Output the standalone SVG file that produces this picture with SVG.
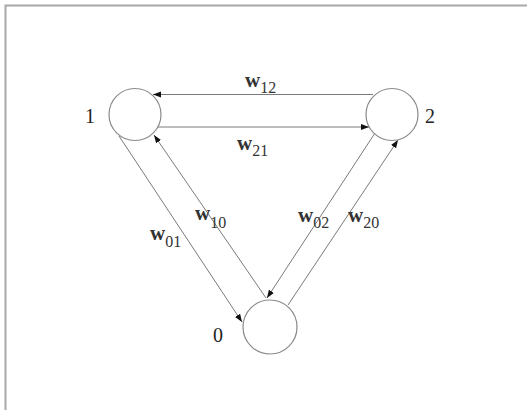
<svg xmlns="http://www.w3.org/2000/svg" width="527" height="410" viewBox="0 0 527 410">
  <defs>
    <marker id="arr" markerWidth="9" markerHeight="7" refX="8" refY="3" orient="auto" markerUnits="userSpaceOnUse">
      <path d="M0,0 L8,3 L0,6 z" fill="#111"/>
    </marker>
    <style>
      .node { fill: #fff; stroke: #8a8a8a; stroke-width: 1.2; }
      .edge { stroke: #7a7a7a; stroke-width: 1; fill: none; marker-end: url(#arr); }
      .nlab { font-family: "Liberation Serif", "Times New Roman", serif; font-size: 20px; fill: #222; }
      .wlab { font-family: "Liberation Serif", "Times New Roman", serif; font-size: 21px; font-weight: bold; fill: #333; }
      .sub { font-size: 16px; font-weight: normal; }
      .frame { stroke: #a8a8a8; stroke-width: 2; fill: none; }
    </style>
  </defs>
  <rect width="527" height="410" fill="#fff"/>
  <path class="frame" d="M5.5,410 L5.5,5.5 L527,5.5"/>

  <g id="connectors">
    <line id="e12" class="edge" x1="373" y1="94.5" x2="153" y2="94.5"/>
    <line id="e21" class="edge" x1="158" y1="127" x2="369" y2="127"/>
    <line id="e01" class="edge" x1="119" y1="136" x2="242" y2="322"/>
    <line id="e10" class="edge" x1="266" y1="298" x2="154" y2="135"/>
    <line id="e02" class="edge" x1="375" y1="133" x2="267" y2="298"/>
    <line id="e20" class="edge" x1="288" y1="305" x2="398" y2="140"/>
    <text class="wlab" x="245" y="87">w<tspan class="sub" dy="6">12</tspan></text>
    <text class="wlab" x="237" y="150">w<tspan class="sub" dy="6">21</tspan></text>
    <text class="wlab" x="150" y="240">w<tspan class="sub" dy="7">01</tspan></text>
    <text class="wlab" x="195" y="220">w<tspan class="sub" dy="8">10</tspan></text>
    <text class="wlab" x="298" y="222">w<tspan class="sub" dy="6">02</tspan></text>
    <text class="wlab" x="348" y="222">w<tspan class="sub" dy="6">20</tspan></text>
  </g>

  <g id="node-1">
    <circle class="node" cx="135" cy="114.5" r="26"/>
    <text class="nlab" x="90" y="123" text-anchor="middle">1</text>
  </g>
  <g id="node-2">
    <circle class="node" cx="392" cy="114.5" r="26"/>
    <text class="nlab" x="430" y="123" text-anchor="middle">2</text>
  </g>
  <g id="node-0">
    <circle class="node" cx="270" cy="327" r="27"/>
    <text class="nlab" x="218" y="342" text-anchor="middle">0</text>
  </g>
</svg>
